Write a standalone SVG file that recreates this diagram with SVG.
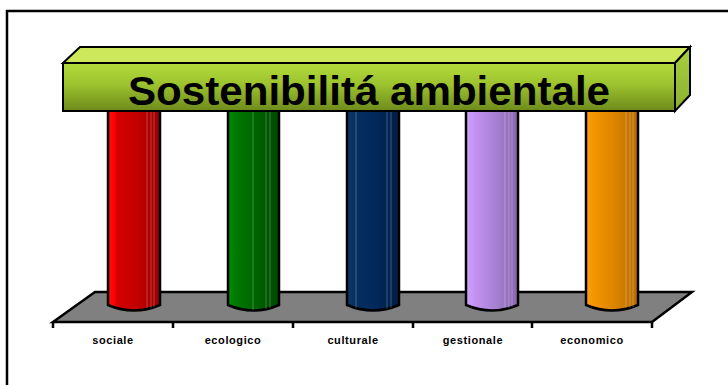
<svg xmlns="http://www.w3.org/2000/svg" width="728" height="385" viewBox="0 0 728 385">
<defs>
<linearGradient id="gRed" x1="0" x2="1" y1="0" y2="0">
<stop offset="0" stop-color="#ff1010"/><stop offset="0.12" stop-color="#ff0000"/><stop offset="0.18" stop-color="#d40000"/><stop offset="0.6" stop-color="#c00000"/><stop offset="1" stop-color="#9a0000"/>
</linearGradient>
<linearGradient id="gGreen" x1="0" x2="1" y1="0" y2="0">
<stop offset="0" stop-color="#009000"/><stop offset="0.15" stop-color="#007a00"/><stop offset="0.6" stop-color="#006000"/><stop offset="1" stop-color="#004a00"/>
</linearGradient>
<linearGradient id="gBlue" x1="0" x2="1" y1="0" y2="0">
<stop offset="0" stop-color="#0a3a6a"/><stop offset="0.15" stop-color="#063060"/><stop offset="0.6" stop-color="#002858"/><stop offset="1" stop-color="#001e46"/>
</linearGradient>
<linearGradient id="gPurple" x1="0" x2="1" y1="0" y2="0">
<stop offset="0" stop-color="#d4a2ff"/><stop offset="0.15" stop-color="#c493f5"/><stop offset="0.6" stop-color="#a57fd0"/><stop offset="1" stop-color="#8a66b0"/>
</linearGradient>
<linearGradient id="gOrange" x1="0" x2="1" y1="0" y2="0">
<stop offset="0" stop-color="#ffa010"/><stop offset="0.15" stop-color="#f59500"/><stop offset="0.6" stop-color="#d88200"/><stop offset="1" stop-color="#b86c00"/>
</linearGradient>
<linearGradient id="gFront" x1="0" x2="0" y1="0" y2="1">
<stop offset="0" stop-color="#b4dc3c"/><stop offset="0.45" stop-color="#9cc22e"/><stop offset="1" stop-color="#6e8a1c"/>
</linearGradient>
<linearGradient id="gSide" x1="0" x2="0" y1="0" y2="1">
<stop offset="0" stop-color="#a8d040"/><stop offset="1" stop-color="#8cb030"/>
</linearGradient>
</defs>
<style>
.col{stroke:#000;stroke-width:2.5}
.hl{stroke:#ffffff;stroke-opacity:0.25;stroke-width:1}
.edge{fill:none;stroke:#000;stroke-width:2.5}
.lbl{font-family:"Liberation Sans",Arial,sans-serif;font-weight:bold;font-size:11px;fill:#000;text-anchor:middle;letter-spacing:0.6px}
.title{font-family:"Liberation Sans",Arial,sans-serif;font-weight:bold;font-size:41px;fill:#000}
</style>
<g id="frame">
<path d="M7,386 V11 H729" fill="none" stroke="#000" stroke-width="2.5"/>
</g>
<g id="floor">
<polygon points="95,292 692,292 652,322 53,322" fill="#808080" stroke="#000" stroke-width="2.5"/>
</g>
<g id="connectors">
<path d="M53,322 V328 M173,322 V328 M293,322 V328 M413,322 V328 M532,322 V328 M652,322 V328" stroke="#000" stroke-width="2.5" fill="none"/>
</g>
<g id="col-sociale">
<path class="col" fill="url(#gRed)" d="M108,108 V305 Q134,316 160,305 V108 Z"/>
<path class="hl" d="M147,110 V308 M151,110 V308 M154,110 V307"/>
</g>
<g id="col-ecologico">
<path class="col" fill="url(#gGreen)" d="M228,108 V305 Q253.5,316 279,305 V108 Z"/>
<path class="hl" d="M253,110 V310 M266,110 V309 M270,110 V308"/>
</g>
<g id="col-culturale">
<path class="col" fill="url(#gBlue)" d="M347,108 V305 Q373,316 399,305 V108 Z"/>
<path class="hl" d="M356,110 V308 M387,110 V309 M391,110 V308"/>
</g>
<g id="col-gestionale">
<path class="col" fill="url(#gPurple)" d="M466,108 V305 Q492,316 518,305 V108 Z"/>
<path class="hl" d="M505,110 V308 M509,110 V308 M512,110 V307"/>
</g>
<g id="col-economico">
<path class="col" fill="url(#gOrange)" d="M586,108 V305 Q612,316 638,305 V108 Z"/>
<path class="hl" d="M626,110 V308 M630,110 V308 M633,110 V307"/>
</g>
<g id="banner">
<polygon points="63,63 80,47 690,47 675,63" fill="#cde85a" stroke="#000" stroke-width="2"/>
<polygon points="675,63 690,47 690,95 675,111" fill="url(#gSide)" stroke="#000" stroke-width="2"/>
<rect x="63" y="63" width="612" height="48" fill="url(#gFront)" stroke="#000" stroke-width="2"/>
<text class="title" x="128" y="105" textLength="482" lengthAdjust="spacingAndGlyphs">Sostenibilitá ambientale</text>
</g>
<g id="labels">
<text class="lbl" x="113" y="344">sociale</text>
<text class="lbl" x="233" y="344">ecologico</text>
<text class="lbl" x="353" y="344">culturale</text>
<text class="lbl" x="473" y="344">gestionale</text>
<text class="lbl" x="592" y="344">economico</text>
</g>
</svg>
